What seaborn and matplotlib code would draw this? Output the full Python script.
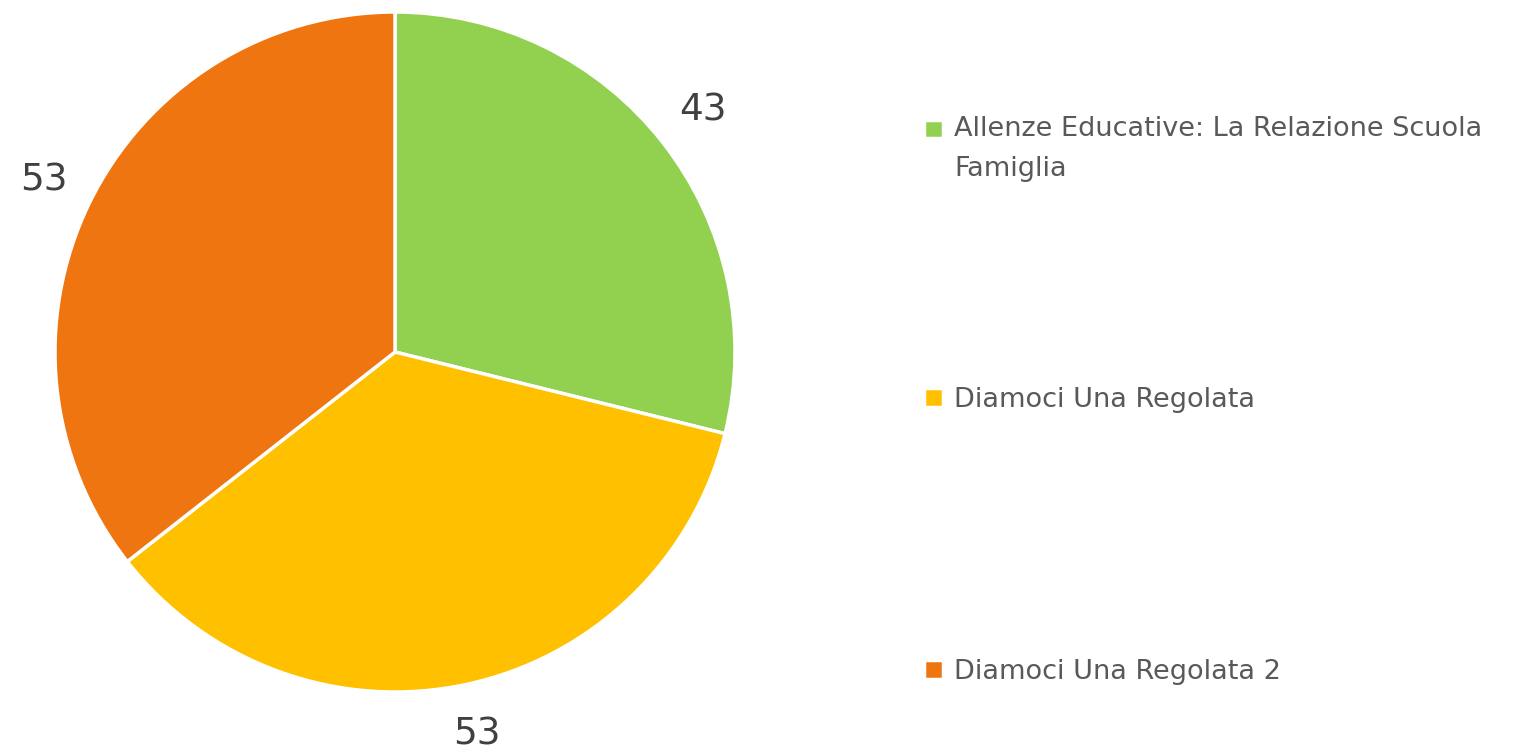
import matplotlib.pyplot as plt
import seaborn as sns
from matplotlib.patches import Rectangle
from matplotlib.legend_handler import HandlerPatch

# Data
labels = ['Allenze Educative: La Relazione Scuola\nFamiglia', 'Diamoci Una Regolata', 'Diamoci Una Regolata 2']
values = [43, 53, 53]
colors = ['#92D050', '#FFC000', '#EF7511']

sns.set_style('white')
plt.rcParams['font.family'] = ['DejaVu Sans']

fig = plt.figure(figsize=(15.17, 7.54), dpi=100)
# pie centred at (395, 352) px with radius 340 px
ax = fig.add_axes([(395 - 340) / 1517, (754 - 352 - 340) / 754, 680 / 1517, 680 / 754])

wedges, texts = ax.pie(values, colors=colors, startangle=90, counterclock=False,
                       labels=[str(v) for v in values], labeldistance=1.15,
                       wedgeprops=dict(edgecolor='white', linewidth=2.5),
                       textprops=dict(fontsize=27, color='#404040'))
for t in texts:
    t.set_ha('center')
    t.set_va('center')
ax.set_xlim(-1, 1)
ax.set_ylim(-1, 1)
ax.set_aspect('equal')


# marker of the two-line entry sits on the first line
def top_square(legend, orig_handle, xdescent, ydescent, width, height, fontsize):
    return Rectangle((-xdescent, -ydescent + 15), width, height)


# one legend per entry, positioned like the reference
entry_y = [1 - 149 / 754, 1 - 400 / 754, 1 - 672 / 754]
for i, (w, lab) in enumerate(zip(wedges, labels)):
    hmap = {w: HandlerPatch(patch_func=top_square)} if '\n' in lab else None
    leg = fig.legend([w], [lab], loc='center left', bbox_to_anchor=(900 / 1517, entry_y[i]),
                     frameon=False, fontsize=19.5, handlelength=0.7, handleheight=0.65,
                     handletextpad=0.4, labelcolor='#595959', handler_map=hmap)
    for t in leg.get_texts():
        t.set_linespacing(1.75)

fig.savefig('out.png', dpi=100)
